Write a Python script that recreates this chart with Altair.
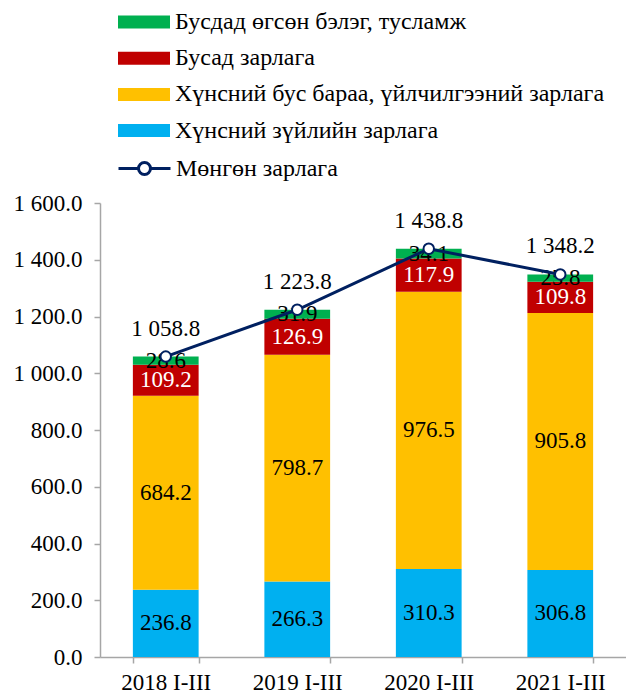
import altair as alt
import pandas as pd

categories = ["2018 I-III", "2019 I-III", "2020 I-III", "2021 I-III"]
food = [236.8, 266.3, 310.3, 306.8]
nonfood = [684.2, 798.7, 976.5, 905.8]
other = [109.2, 126.9, 117.9, 109.8]
gifts = [28.6, 31.9, 34.1, 25.8]
total = [1058.8, 1223.8, 1438.8, 1348.2]

# bottom-to-top stacking order
series_names = [
    "Хүнсний зүйлийн зарлага",
    "Хүнсний бус бараа, үйлчилгээний зарлага",
    "Бусад зарлага",
    "Бусдад өгсөн бэлэг, тусламж",
]
series_colors = ["#00B0F0", "#FFC000", "#C00000", "#00B050"]
line_name = "Мөнгөн зарлага"

rows = []
for s_idx, (name, vals) in enumerate(zip(series_names, [food, nonfood, other, gifts])):
    for cat, v in zip(categories, vals):
        rows.append({"category": cat, "series": name, "value": v, "order": s_idx})
df = pd.DataFrame(rows)
df_total = pd.DataFrame({"category": categories, "total": total, "name": line_name})

FONT = "Liberation Serif"
NAVY = "#002060"
GRAY = "#A6A6A6"
FS = 23

legend_domain = list(reversed(series_names))
legend_range = list(reversed(series_colors))

# symbol size 484 -> unit scale 11 px
rect_path = "M-2.3636,-0.5909H2.3636V0.5909H-2.3636Z"
line_path = ("M-2.3636,0H-0.545M0.545,0H2.3636M0.545,0A0.545,0.545 0 1,1 -0.545,0"
             "A0.545,0.545 0 1,1 0.545,0")

x_enc = alt.X(
    "category:N",
    sort=categories,
    title=None,
    scale=alt.Scale(paddingInner=0.5, paddingOuter=0.25),
    axis=alt.Axis(labelAngle=0, labelFont=FONT, labelFontSize=FS, labelColor="black",
                  domainColor=GRAY, tickColor=GRAY, tickSize=6, tickBand="extent",
                  labelPadding=8, domainWidth=1.5, tickWidth=1.5),
)
y_scale = alt.Scale(domain=[0, 1600], nice=False)
y_axis = alt.Axis(values=list(range(0, 1601, 200)), format=",.1f", grid=False,
                  labelFont=FONT, labelFontSize=FS, labelColor="black",
                  domainColor=GRAY, tickColor=GRAY, tickSize=6, labelPadding=12,
                  domainWidth=1.5, tickWidth=1.5, title=None)

leg_common = dict(
    title=None, orient="none", legendX=17,
    symbolSize=484, symbolOffset=15,
    labelFont=FONT, labelFontSize=24, labelColor="black", labelOffset=19,
    padding=0, labelLimit=600,
)

base = alt.Chart(df)

bars = base.mark_bar().encode(
    x=x_enc,
    y=alt.Y("value:Q", stack="zero", scale=y_scale, axis=y_axis),
    order=alt.Order("order:Q", sort="ascending"),
    color=alt.Color(
        "series:N",
        scale=alt.Scale(domain=legend_domain, range=legend_range),
        legend=alt.Legend(
            legendY=-193, symbolType=rect_path, symbolStrokeWidth=0,
            rowPadding=12.2, **leg_common,
        ),
    ),
)

labels = base.transform_stack(
    stack="value", as_=["y0", "y1"], groupby=["category"],
    sort=[alt.SortField("order", order="ascending")],
).transform_calculate(
    mid="(datum.y0 + datum.y1) / 2"
).mark_text(font=FONT, fontSize=FS, baseline="middle").encode(
    x=alt.X("category:N", sort=categories),
    y=alt.Y("mid:Q", scale=y_scale),
    text=alt.Text("value:Q", format=".1f"),
    color=alt.condition(alt.datum.series == "Бусад зарлага",
                        alt.value("white"), alt.value("black")),
)

tot_base = alt.Chart(df_total)
line = tot_base.mark_line(strokeWidth=3).encode(
    x=alt.X("category:N", sort=categories),
    y=alt.Y("total:Q", scale=y_scale),
    stroke=alt.Stroke(
        "name:N",
        scale=alt.Scale(range=[NAVY]),
        legend=alt.Legend(
            legendY=-47, symbolType=line_path, symbolStrokeWidth=3,
            symbolFillColor="white", symbolStrokeColor=NAVY,
            **leg_common,
        ),
    ),
)
points = tot_base.mark_point(filled=True, fill="white", stroke=NAVY, strokeWidth=2,
                             size=110, opacity=1).encode(
    x=alt.X("category:N", sort=categories),
    y=alt.Y("total:Q", scale=y_scale),
)
tot_labels = tot_base.mark_text(font=FONT, fontSize=FS, dy=-28, color="black").encode(
    x=alt.X("category:N", sort=categories),
    y=alt.Y("total:Q", scale=y_scale),
    text=alt.Text("total:Q", format=",.1f"),
)

chart = alt.layer(bars, labels, line, points, tot_labels).properties(
    width=526, height=454,
    padding={"left": 5, "top": 2, "right": 0, "bottom": 0},
).configure(
    locale={"number": {"decimal": ".", "thousands": " ", "grouping": [3],
                       "currency": ["", ""]}},
).configure_view(stroke=None)

chart.save("out.html", embed_options={"renderer": "svg", "actions": False})
